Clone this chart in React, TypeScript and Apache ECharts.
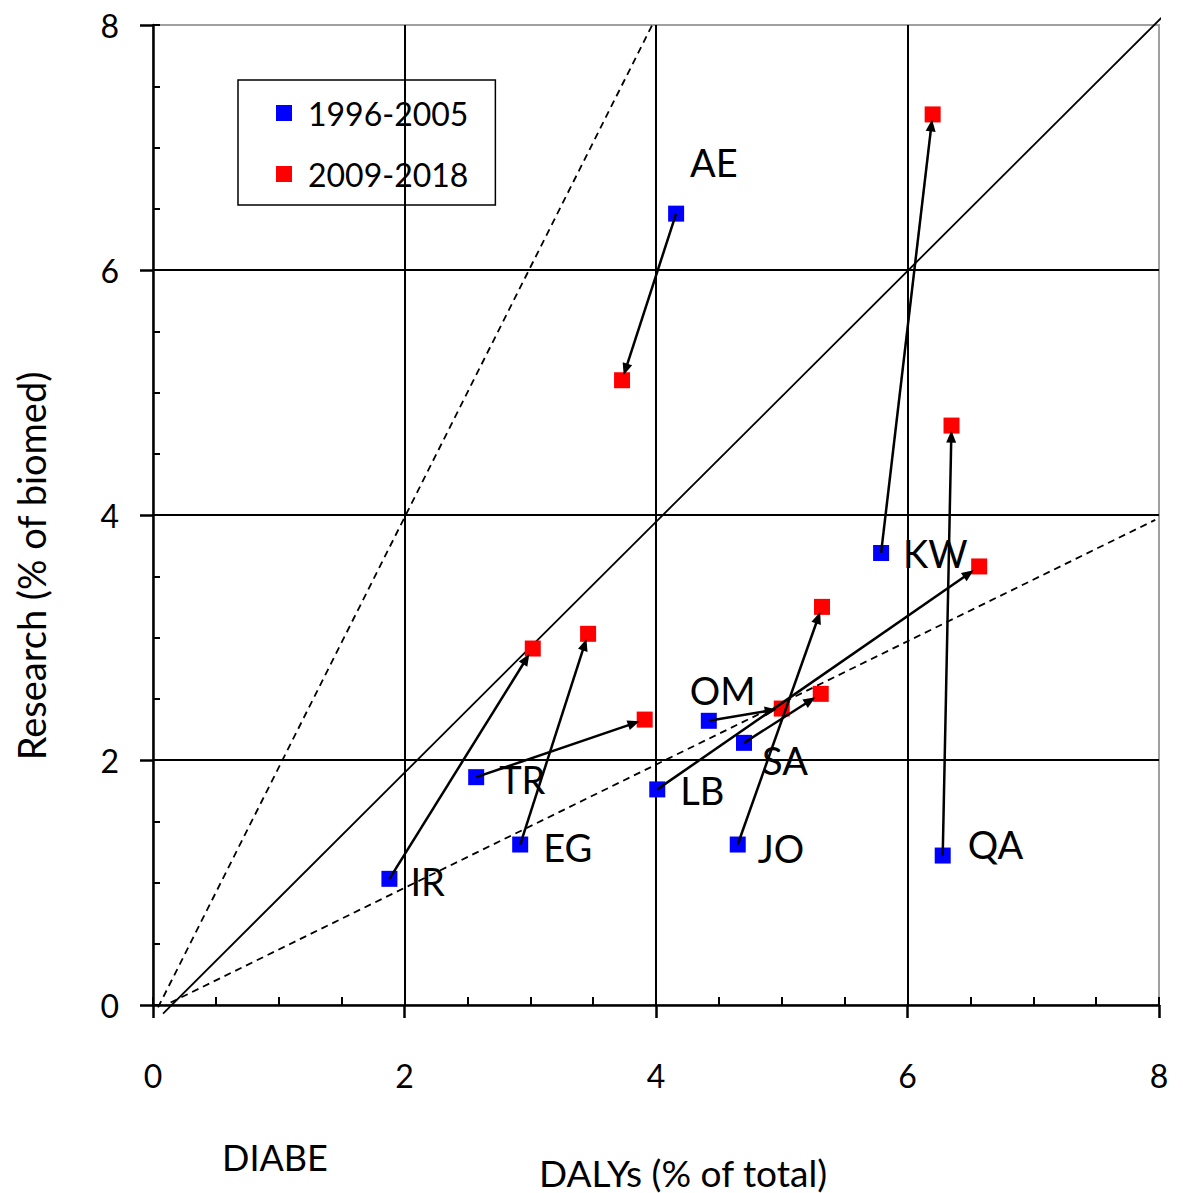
import React, { useEffect, useRef } from "react";
import * as echarts from "echarts";

const countries = ["AE", "KW", "QA", "OM", "SA", "LB", "JO", "TR", "EG", "IR"];
const dalys1996 = [4.16, 5.79, 6.28, 4.42, 4.7, 4.01, 4.65, 2.57, 2.92, 1.88];
const research1996 = [6.46, 3.69, 1.22, 2.32, 2.14, 1.76, 1.31, 1.86, 1.31, 1.03];
const dalys2009 = [3.73, 6.2, 6.35, 5.0, 5.31, 6.57, 5.32, 3.91, 3.46, 3.02];
const research2009 = [5.1, 7.27, 4.73, 2.42, 2.54, 3.58, 3.25, 2.33, 3.03, 2.91];

const diagX = [0.08, 8.02];
const diagY = [-0.07, 8.06];
const steepX = [0.04, 3.97];
const steepY = [-0.02, 8.0];
const shallowX = [0.14, 7.97];
const shallowY = [0.02, 3.96];

const xTicks = [0, 2, 4, 6, 8];
const yTicks = [0, 2, 4, 6, 8];

// label offsets (px) relative to square center: [dx to left edge of text, dy to text middle]
const labelOffsets = [
  [14, -52], [22, 0], [25, -12], [-19, -31], [18, 17],
  [23, 1], [20, 3], [23, 2], [23, 2], [21, 2],
];

const FONT = "Lato, 'Open Sans', sans-serif";

export default function App() {
  const ref = useRef<HTMLDivElement>(null);
  useEffect(() => {
    document.body.style.margin = "0";
    const chart = echarts.init(ref.current!, null, { renderer: "svg" });
    const mk = (xs: number[], ys: number[]) => xs.map((x, i) => [x, ys[i]]);
    const option: any = {
      animation: false,
      textStyle: { fontFamily: FONT, color: "#000" },
      grid: {
        left: 153, top: 25, right: 24, bottom: 188,
        show: true, borderColor: "#a0a0a0", borderWidth: 2, backgroundColor: "transparent",
      },
      legend: {
        orient: "vertical",
        left: 238,
        top: 80,
        data: [
          { name: "1996-2005", itemStyle: { color: "#0000ff", opacity: 1 } },
          { name: "2009-2018", itemStyle: { color: "#ff0000", opacity: 1 } },
        ],
        icon: "rect",
        itemWidth: 16,
        itemHeight: 16,
        itemGap: 25,
        padding: [15, 27, 13, 38],
        borderColor: "#000",
        borderWidth: 1.5,
        borderRadius: 0,
        textStyle: { fontFamily: FONT, fontSize: 32, color: "#000", lineHeight: 36, padding: [0, 0, 0, 11] },
      },
      xAxis: [
        {
          type: "value", min: 0, max: 8, interval: 2, position: "bottom",
          axisLine: { show: true, onZero: false, lineStyle: { color: "#000", width: 2.5 } },
          axisTick: { show: true, inside: false, length: 13, lineStyle: { color: "#000", width: 2.5 } },
          axisLabel: {
            fontSize: 32, fontFamily: FONT, color: "#000", margin: 54,
            formatter: (v: number) => (xTicks.includes(v) ? String(v) : ""),
          },
          splitLine: { show: true, showMinLine: false, showMaxLine: false, lineStyle: { color: "#000", width: 2 } },
        },
        {
          type: "value", min: 0, max: 8, interval: 0.5, position: "bottom",
          axisLine: { show: false },
          axisTick: { show: true, inside: true, length: 8, lineStyle: { color: "#000", width: 2 } },
          axisLabel: { show: false },
          splitLine: { show: false },
        },
      ],
      yAxis: [
        {
          type: "value", min: 0, max: 8, interval: 2, position: "left",
          axisLine: { show: true, onZero: false, lineStyle: { color: "#000", width: 2.5 } },
          axisTick: { show: true, inside: false, length: 13, lineStyle: { color: "#000", width: 2.5 } },
          axisLabel: {
            fontSize: 32, fontFamily: FONT, color: "#000", margin: 34,
            formatter: (v: number) => (yTicks.includes(v) ? String(v) : ""),
          },
          splitLine: { show: true, showMinLine: false, showMaxLine: false, lineStyle: { color: "#000", width: 2 } },
        },
        {
          type: "value", min: 0, max: 8, interval: 0.5, position: "left",
          axisLine: { show: false },
          axisTick: { show: true, inside: true, length: 7, lineStyle: { color: "#000", width: 2 } },
          axisLabel: { show: false },
          splitLine: { show: false },
        },
      ],
      series: [
        {
          name: "y=x", type: "line", data: mk(diagX, diagY), symbol: "none", clip: false, silent: true,
          lineStyle: { color: "#000", width: 1.8 }, z: 1,
        },
        {
          name: "y=2x", type: "line", data: mk(steepX, steepY), symbol: "none", clip: false, silent: true,
          lineStyle: { color: "#000", width: 1.8, type: [7, 5] }, z: 1,
        },
        {
          name: "y=x/2", type: "line", data: mk(shallowX, shallowY), symbol: "none", clip: false, silent: true,
          lineStyle: { color: "#000", width: 1.8, type: [7, 5] }, z: 1,
        },
        {
          name: "1996-2005", type: "scatter", symbol: "rect", symbolSize: 16,
          itemStyle: { color: "#0000ff", opacity: 1 }, z: 3,
          data: countries.map((c, i) => ({
            name: c,
            value: [dalys1996[i], research1996[i]],
            label: {
              show: true, formatter: c, position: "right", distance: 0,
              offset: [labelOffsets[i][0] - 8, labelOffsets[i][1]],
              fontSize: 38, fontFamily: FONT, color: "#000",
            },
          })),
        },
        {
          name: "2009-2018", type: "scatter", symbol: "rect", symbolSize: 16,
          itemStyle: { color: "#ff0000", opacity: 1 }, z: 3,
          data: countries.map((c, i) => ({ name: c, value: [dalys2009[i], research2009[i]] })),
        },
        {
          name: "arrows", type: "custom", z: 5, silent: true,
          encode: { x: [0, 2], y: [1, 3] },
          data: countries.map((c, i) => [dalys1996[i], research1996[i], dalys2009[i], research2009[i]]),
          renderItem: (params: any, api: any) => {
            const p0 = api.coord([api.value(0), api.value(1)]);
            const p1 = api.coord([api.value(2), api.value(3)]);
            const dx = p1[0] - p0[0];
            const dy = p1[1] - p0[1];
            const len = Math.hypot(dx, dy);
            const ux = dx / len;
            const uy = dy / len;
            const edge = 8 / Math.max(Math.abs(ux), Math.abs(uy)) - 3;
            const tip = [p1[0] - ux * edge, p1[1] - uy * edge];
            const headL = 12;
            const headW = 5;
            const base = [tip[0] - ux * headL, tip[1] - uy * headL];
            const nx = -uy;
            const ny = ux;
            return {
              type: "group",
              children: [
                {
                  type: "line",
                  shape: { x1: p0[0], y1: p0[1], x2: base[0] + ux * 2, y2: base[1] + uy * 2 },
                  style: { stroke: "#000", lineWidth: 2.5 },
                },
                {
                  type: "polygon",
                  shape: {
                    points: [
                      tip,
                      [base[0] + nx * headW, base[1] + ny * headW],
                      [base[0] - nx * headW, base[1] - ny * headW],
                    ],
                  },
                  style: { fill: "#000" },
                },
              ],
            };
          },
        },
      ],
      graphic: [
        {
          type: "text", x: 222, y: 1157,
          style: { text: "DIABE", font: `36px ${FONT}`, fill: "#000", align: "left", verticalAlign: "middle", textAlign: "left", textVerticalAlign: "middle" },
        },
        {
          type: "text", x: 683, y: 1172,
          style: { text: "DALYs (% of total)", font: `37px ${FONT}`, fill: "#000", align: "center", verticalAlign: "middle", textAlign: "center", textVerticalAlign: "middle" },
        },
        {
          type: "text", x: 31, y: 566, rotation: Math.PI / 2,
          style: { text: "Research (% of biomed)", font: `38px ${FONT}`, fill: "#000", align: "center", verticalAlign: "middle", textAlign: "center", textVerticalAlign: "middle" },
        },
      ],
    };
    chart.setOption(option);
    return () => chart.dispose();
  }, []);
  return <div ref={ref} style={{ width: 1183, height: 1193 }} />;
}
